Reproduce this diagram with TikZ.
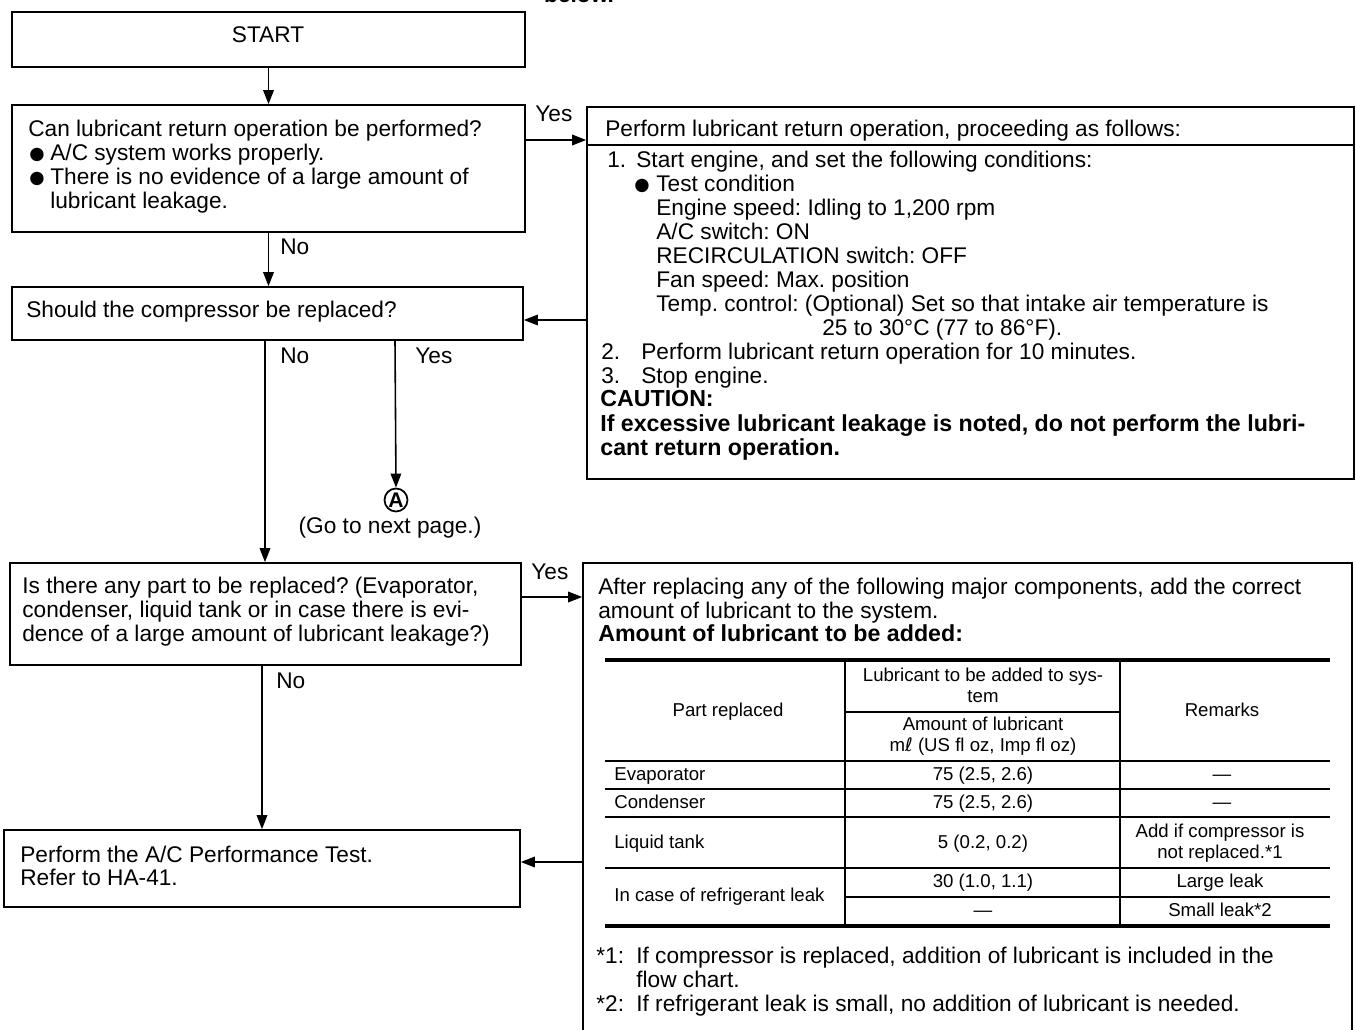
\documentclass[tikz,border=0pt]{standalone}
\usepackage{fontspec}
\setmainfont{Liberation Sans}
\newfontfamily\symf{DejaVu Sans}
\usetikzlibrary{arrows.meta,fit}
\frenchspacing
\newcommand\bodyfont{\fontsize{12.9}{14}\selectfont}
\newcommand\boldfont{\fontsize{13.2}{14}\selectfont\bfseries}
\newcommand\tabfont{\fontsize{10.6}{12}\selectfont}
\newcommand\bul{{\fontsize{10}{12}\selectfont\symf●}}
\tikzset{
  box/.style={draw, line width=0.9pt, inner sep=0pt},
  arr/.style={line width=0.9pt, -{Triangle[length=0.28cm,width=0.21cm]}},
  tx/.style={anchor=base west, inner sep=0pt, font=\bodyfont},
  txb/.style={anchor=base west, inner sep=0pt, font=\boldfont},
  tc/.style={anchor=base, inner sep=0pt, font=\tabfont},
  tl/.style={anchor=base west, inner sep=0pt, font=\tabfont},
  thin/.style={line width=0.75pt},
  thick2/.style={line width=2.2pt},
}
\begin{document}
\begin{tikzpicture}[x=0.02cm,y=-0.02cm]
\useasboundingbox[fill=white] (0,0) rectangle (1356,1030);

% cut-off text at top (as in the reference)
\node[anchor=base, inner sep=0pt, font=\bodyfont\bfseries] (below) at (579,3) {below.};

% boxes
\node[box, fit={(12,12) (525,67)}] (start) {};
\node[box, fit={(12,105) (525,232)}] (q1) {};
\node[box, fit={(12,287) (523,340)}] (q2) {};
\node[box, fit={(10,563) (521,665)}] (q3) {};
\node[box, fit={(4,830) (520,907)}] (q4) {};
\node[box, fit={(587,107) (1354,479)}] (r1) {};
\node[box, fit={(583,563) (1352,1045)}] (r2) {};
\node[circle, draw, line width=1pt, inner sep=0pt, minimum size=0.46cm, font=\fontsize{12}{12}\selectfont\bfseries] (cA) at (396,500) {A};

% header rule in r1
\draw[line width=1.6pt] (r1.west |- 0,145) -- (r1.east |- 0,145);

% START
\node[anchor=base, inner sep=0pt, font=\bodyfont] (tstart) at (268,43) {START};

% q1 text
\node[tx] (q1a) at (28,137) {Can lubricant return operation be performed?};
\node[tx] (q1b1) at (29,160) {\bul};
\node[tx] (q1b) at (50,161) {A/C system works properly.};
\node[tx] (q1c1) at (29,184) {\bul};
\node[tx] (q1c) at (50,185) {There is no evidence of a large amount of};
\node[tx] (q1d) at (50,209) {lubricant leakage.};

% q2 text
\node[tx] (q2a) at (26,318) {Should the compressor be replaced?};

% q3 text
\node[tx] (q3a) at (22,593) {Is there any part to be replaced? (Evaporator,};
\node[tx] (q3b) at (22,617) {condenser, liquid tank or in case there is evi-};
\node[tx] (q3c) at (22,641) {dence of a large amount of lubricant leakage?)};

% q4 text
\node[tx] (q4a) at (20,862) {Perform the A/C Performance Test.};
\node[tx] (q4b) at (20,885) {Refer to HA-41.};

% labels
\node[tx] (lyes1) at (535,122) {Yes};
\node[tx] (lno1) at (280,255) {No};
\node[tx] (lno2) at (280,364) {No};
\node[tx] (lyes2) at (415,364) {Yes};
\node[anchor=base, inner sep=0pt, font=\bodyfont] (gonext) at (390,533) {(Go to next page.)};
\node[tx] (lyes3) at (531,579) {Yes};
\node[tx] (lno3) at (276,688) {No};

% r1 text
\node[tx] (r1h) at (605,137) {Perform lubricant return operation, proceeding as follows:};
\node[tx] (r1n1) at (607,168) {1.};
\node[tx] (r1a) at (636,168) {Start engine, and set the following conditions:};
\node[tx] (r1b1) at (634,191) {\bul};
\node[tx] (r1b) at (656,192) {Test condition};
\node[tx] (r1c) at (656,216) {Engine speed: Idling to 1,200 rpm};
\node[tx] (r1d) at (656,240) {A/C switch: ON};
\node[tx] (r1e) at (656,264) {RECIRCULATION switch: OFF};
\node[tx] (r1f) at (656,288) {Fan speed: Max. position};
\node[tx] (r1g) at (656,312) {Temp. control: (Optional) Set so that intake air temperature is};
\node[tx] (r1h2) at (822,336) {25 to 30°C (77 to 86°F).};
\node[tx] (r1n2) at (601,360) {2.};
\node[tx] (r1i) at (641,360) {Perform lubricant return operation for 10 minutes.};
\node[tx] (r1n3) at (601,384) {3.};
\node[tx] (r1j) at (641,384) {Stop engine.};
\node[txb] (r1k) at (600,407) {CAUTION:};
\node[txb] (r1l) at (600,432) {If excessive lubricant leakage is noted, do not perform the lubri-};
\node[txb] (r1m) at (600,456) {cant return operation.};

% r2 text
\node[tx] (r2a) at (598,594) {After replacing any of the following major components, add the correct};
\node[tx] (r2b) at (598,618) {amount of lubricant to the system.};
\node[txb] (r2c) at (598,641) {Amount of lubricant to be added:};

% table
\draw[thick2] (605,660) coordinate (tbtl) -- (1330,660) coordinate (tbtr);
\draw[thick2] (605,926) coordinate (tbbl) -- (1330,926) coordinate (tbbr);
\draw[thin] (845,660) -- (845,926);
\draw[thin] (1120,660) -- (1120,926);
\draw[thin] (845,712) -- (1120,712);
\draw[thin] (605,761) -- (1330,761);
\draw[thin] (605,789) -- (1330,789);
\draw[thin] (605,817) -- (1330,817);
\draw[thin] (605,868) -- (1330,868);
\draw[thin] (845,897) -- (1330,897);

\node[tc] (th1) at (983,681) {Lubricant to be added to sys-};
\node[tc] (th2) at (983,702) {tem};
\node[tc] (th3) at (728,716) {Part replaced};
\node[tc] (th4) at (1222,716) {Remarks};
\node[tc] (th5) at (983,730) {Amount of lubricant};
\node[tc] (th6) at (983,751) {m{\symf ℓ} (US fl oz, Imp fl oz)};

\node[tl] (ta1) at (614,780) {Evaporator};
\node[tc] (ta2) at (983,780) {75 (2.5, 2.6)};
\node[tc] (ta3) at (1222,780) {—};
\node[tl] (tb1) at (614,808) {Condenser};
\node[tc] (tb2) at (983,808) {75 (2.5, 2.6)};
\node[tc] (tb3) at (1222,808) {—};
\node[tl] (tc1) at (614,848) {Liquid tank};
\node[tc] (tc2) at (983,848) {5 (0.2, 0.2)};
\node[tc] (tc3) at (1220,837) {Add if compressor is};
\node[tc] (tc4) at (1220,858) {not replaced.*1};
\node[tl] (td1) at (614,901) {In case of refrigerant leak};
\node[tc] (td2) at (983,887) {30 (1.0, 1.1)};
\node[tc] (td3) at (1220,887) {Large leak};
\node[tc] (td4) at (983,916) {—};
\node[tc] (td5) at (1220,916) {Small leak*2};

% footnotes
\node[tx] (f1n) at (596,963) {*1:};
\node[tx] (f1a) at (636,963) {If compressor is replaced, addition of lubricant is included in the};
\node[tx] (f1b) at (636,987) {flow chart.};
\node[tx] (f2n) at (596,1011) {*2:};
\node[tx] (f2a) at (636,1011) {If refrigerant leak is small, no addition of lubricant is needed.};

% connectors
\draw[arr] (start.south) -- (q1.north);
\draw[arr] (q1.south) -- (q1.south |- q2.north);
\draw[arr] (q1.east |- 0,140) -- (r1.west |- 0,140);
\draw[arr] (r1.west |- 0,320) -- (q2.east |- 0,320);
\draw[arr] (q2.south -| 265,0) -- (q3.north -| 265,0);
\draw[arr] (q2.south -| 395,0) -- (cA.north);
\draw[arr] (q3.east |- 0,597) -- (r2.west |- 0,597);
\draw[arr] (q3.south -| 262,0) -- (q4.north -| 262,0);
\draw[arr] (r2.west |- 0,862) -- (q4.east |- 0,862);
\end{tikzpicture}
\end{document}
